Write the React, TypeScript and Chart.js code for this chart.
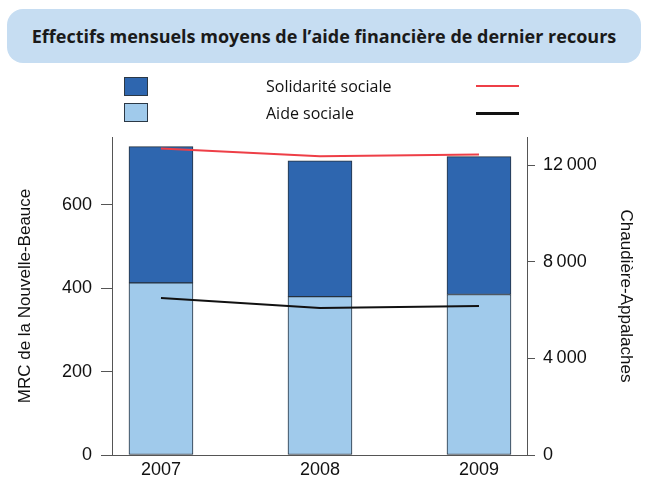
import React, { useEffect, useRef } from 'react';
import { Chart, registerables } from 'chart.js';

Chart.register(...registerables);

const years = ['2007', '2008', '2009'];
// MRC de la Nouvelle-Beauce (left axis, stacked bars)
const aideSocialeNB = [413, 380, 385];
const solidariteSocialeNB = [327, 326, 331];
// Chaudière-Appalaches (right axis, lines)
const solidariteSocialeCA = [12700, 12380, 12450];
const aideSocialeCA = [6510, 6095, 6180];
const leftTicks = [0, 200, 400, 600];
const rightTicks = [0, 4000, 8000, 12000];

const titleText = 'Effectifs mensuels moyens de l’aide financière de dernier recours';
const legendSolidarite = 'Solidarité sociale';
const legendAide = 'Aide sociale';
const leftTitle = 'MRC de la Nouvelle-Beauce';
const rightTitle = 'Chaudière-Appalaches';

const DARK = '#2E66AF';
const LIGHT = '#A0CAEB';
const RED = '#EE3F47';
const BLACK = '#111111';
const AXIS = '#555555';
const BAR_BORDER = '#26323f';

const fmtThousands = (v: number) => {
  if (v < 1000) return String(v);
  const th = Math.floor(v / 1000);
  const rest = String(v % 1000).padStart(3, '0');
  return th + '\u2009' + rest;
};

export default function App() {
  const ref = useRef<HTMLCanvasElement | null>(null);

  useEffect(() => {
    if (!ref.current) return;
    const tickFont = { family: '"Liberation Sans", Arial, sans-serif', size: 18 };
    const titleFont = { family: '"Liberation Sans", Arial, sans-serif', size: 17 };
    const chart = new Chart(ref.current, {
      type: 'bar',
      data: {
        datasets: [
          {
            type: 'line',
            label: legendSolidarite + ' (CA)',
            data: solidariteSocialeCA.map((v, i) => ({ x: i, y: v })),
            yAxisID: 'y2',
            borderColor: RED,
            borderWidth: 2,
            pointRadius: 0,
            tension: 0,
            order: 1,
          } as any,
          {
            type: 'line',
            label: legendAide + ' (CA)',
            data: aideSocialeCA.map((v, i) => ({ x: i, y: v })),
            yAxisID: 'y2',
            borderColor: BLACK,
            borderWidth: 2,
            pointRadius: 0,
            tension: 0,
            order: 1,
          } as any,
          {
            type: 'bar',
            label: legendAide,
            data: aideSocialeNB.map((v, i) => ({ x: i, y: v })),
            yAxisID: 'y',
            backgroundColor: LIGHT,
            borderColor: BAR_BORDER,
            borderWidth: 1,
            borderSkipped: false,
            barThickness: 64,
            order: 2,
          } as any,
          {
            type: 'bar',
            label: legendSolidarite,
            data: solidariteSocialeNB.map((v, i) => ({ x: i, y: v })),
            yAxisID: 'y',
            backgroundColor: DARK,
            borderColor: BAR_BORDER,
            borderWidth: 1,
            borderSkipped: false,
            barThickness: 64,
            order: 2,
          } as any,
        ],
      },
      options: {
        animation: false,
        responsive: false,
        devicePixelRatio: 1,
        layout: { padding: { top: 137, left: 0, right: 0, bottom: 0 } },
        plugins: { legend: { display: false }, tooltip: { enabled: false }, title: { display: false } },
        scales: {
          x: {
            type: 'linear',
            stacked: true,
            offset: false,
            min: -0.308,
            max: 2.302,
            afterBuildTicks: (s: any) => {
              s.ticks = years.map((_, i) => ({ value: i }));
            },
            afterFit: (s: any) => {
              s.height = 22;
            },
            grid: { display: true, offset: false, drawOnChartArea: false, drawTicks: false, color: AXIS },
            border: { display: true, color: AXIS, width: 1 },
            ticks: {
              color: '#111',
              font: tickFont,
              padding: 4,
              maxRotation: 0,
              autoSkip: false,
              callback: (v: any) => years[v as number] ?? '',
            },
          },
          y: {
            type: 'linear',
            position: 'left',
            stacked: true,
            min: 0,
            max: 763,
            afterBuildTicks: (s: any) => {
              s.ticks = leftTicks.map((v) => ({ value: v }));
            },
            afterFit: (s: any) => {
              s.width = 112;
            },
            grid: { display: true, drawOnChartArea: false, drawTicks: true, tickLength: 11, color: AXIS },
            border: { display: true, color: AXIS, width: 1 },
            ticks: { color: '#111', font: tickFont, padding: 9, callback: (v: any) => String(v) },
            title: { display: true, text: leftTitle, color: '#111', font: titleFont, padding: { top: 15, bottom: 0 } },
          },
          y2: {
            type: 'linear',
            position: 'right',
            min: 0,
            max: 13180,
            afterBuildTicks: (s: any) => {
              s.ticks = rightTicks.map((v) => ({ value: v }));
            },
            afterFit: (s: any) => {
              s.width = 118;
            },
            grid: { display: true, drawOnChartArea: false, drawTicks: true, tickLength: 8, color: AXIS },
            border: { display: true, color: AXIS, width: 1 },
            ticks: { color: '#111', font: tickFont, padding: 8, callback: (v: any) => fmtThousands(v as number) },
            title: { display: true, text: rightTitle, color: '#111', font: titleFont, padding: { top: 9, bottom: 0 } },
          },
        },
      } as any,
    });
    return () => chart.destroy();
  }, []);

  const legendFont = '"Open Sans", "DejaVu Sans", sans-serif';

  return (
    <div style={{ position: 'absolute', left: 0, top: 0, width: 645, height: 477, background: '#fff', overflow: 'hidden' }}>
      <div
        style={{
          position: 'absolute',
          left: 7,
          top: 9,
          width: 634,
          height: 54,
          borderRadius: 16,
          background: '#C6DDF2',
          display: 'flex',
          alignItems: 'center',
          justifyContent: 'center',
          fontFamily: legendFont,
          fontWeight: 700,
          fontSize: 18,
          color: '#1a1a1a',
          whiteSpace: 'nowrap',
        }}
      >
        {titleText}
      </div>
      <canvas ref={ref} width={645} height={477} style={{ position: 'absolute', left: 0, top: 0, width: 645, height: 477 }} />
      <div style={{ position: 'absolute', left: 124, top: 77, width: 22, height: 17, background: DARK, border: '1px solid #2b3845' }} />
      <div style={{ position: 'absolute', left: 124, top: 103, width: 22, height: 17, background: LIGHT, border: '1px solid #2b3845' }} />
      <div style={{ position: 'absolute', left: 266, top: 76, height: 20, lineHeight: '20px', fontFamily: legendFont, fontSize: 16, color: '#111', whiteSpace: 'nowrap' }}>
        {legendSolidarite}
      </div>
      <div style={{ position: 'absolute', left: 266, top: 103, height: 20, lineHeight: '20px', fontFamily: legendFont, fontSize: 16, color: '#111', whiteSpace: 'nowrap' }}>
        {legendAide}
      </div>
      <div style={{ position: 'absolute', left: 476, top: 85, width: 43, height: 2, background: RED }} />
      <div style={{ position: 'absolute', left: 476, top: 112, width: 43, height: 3, background: BLACK }} />
    </div>
  );
}
